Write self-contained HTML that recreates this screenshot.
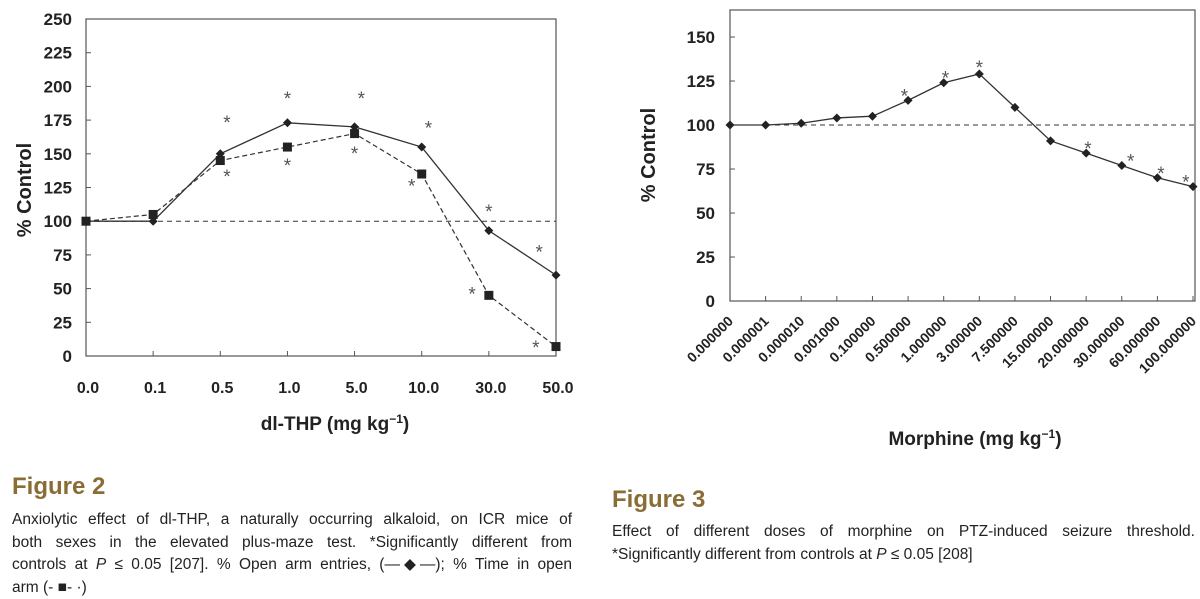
<!DOCTYPE html>
<html><head><meta charset="utf-8"><style>
body{margin:0;width:1200px;height:599px;background:#fff;overflow:hidden;font-family:"Liberation Sans",sans-serif}
svg{position:absolute;left:0;top:0}
.cap{position:absolute;font-size:15.5px;line-height:22.5px;color:#222;white-space:nowrap}
.cap .j{text-align:justify;text-align-last:justify;white-space:normal}
.fig{position:absolute;font-size:24px;font-weight:bold;color:#8a6d35}
</style></head><body>
<svg id="s" width="1200" height="460"></svg>
<div class="fig" style="left:12px;top:473px">Figure 2</div>
<div class="cap" style="left:12px;top:509px;width:560px"><div class="j">Anxiolytic effect of dl-THP, a naturally occurring alkaloid, on ICR mice of</div><div class="j">both sexes in the elevated plus-maze test. *Significantly different from</div><div class="j">controls at <i>P</i> ≤ 0.05 [207]. % Open arm entries, (—◆—); % Time in open</div><div>arm (- ■- ·)</div></div>
<div class="fig" style="left:612px;top:486px">Figure 3</div>
<div class="cap" style="left:612px;top:521px;width:583px"><div class="j">Effect of different doses of morphine on PTZ-induced seizure threshold.</div><div>*Significantly different from controls at <i>P</i> ≤ 0.05 [208]</div></div>
<script>
const catsA=["0.0","0.1","0.5","1.0","5.0","10.0","30.0","50.0"];
const entriesA=[100,100,150,173,170,155,93,60];
const timeA=[100,105,145,155,165,135,45,7];
const starsA=[[2,175,0.1],[2,135,0.1],[3,193,0],[3,143,0],[4,193,0.1],[4,152,0],[5,171,0.1],[5,128,-0.15],[6,109,0],[6,48,-0.25],[7,79,-0.25],[7,8,-0.3]];
const ticksA=[0,25,50,75,100,125,150,175,200,225,250];
const catsB=["0.000000","0.000001","0.000010","0.001000","0.100000","0.500000","1.000000","3.000000","7.500000","15.000000","20.000000","30.000000","60.000000","100.000000"];
const valsB=[100,100,101,104,105,114,124,129,110,91,84,77,70,65];
const starsB=[[5,118,-0.1],[6,128,0.05],[7,134,0],[10,88,0.05],[11,81,0.25],[12,74,0.1],[13,69,-0.2]];
const ticksB=[0,25,50,75,100,125,150];
const S=document.getElementById('s'),NS="http://www.w3.org/2000/svg";
function el(t,a,txt){const e=document.createElementNS(NS,t);for(const k in a)e.setAttribute(k,a[k]);if(txt!=null)e.textContent=txt;S.appendChild(e);return e;}
const FB='font-family:"Liberation Sans",sans-serif;font-weight:bold;fill:#222';
// chart A
const xA=i=>86+i*(556-86)/(catsA.length-1), yA=v=>356-v*(356-19)/250;
let r=el('rect',{x:86,y:19,width:470,height:337,fill:'none',stroke:'#555','stroke-width':1.2});

ticksA.forEach(t=>{const e=el('text',{x:72,y:yA(t)+6,'text-anchor':'end',style:FB+';font-size:17px'},t);

el('line',{x1:86,x2:91,y1:yA(t),y2:yA(t),stroke:'#555'});});
catsA.forEach((c,i)=>{el('line',{x1:xA(i),x2:xA(i),y1:356,y2:351,stroke:'#555'});
const e=el('text',{x:xA(i)+2,y:393,'text-anchor':'middle',style:FB+';font-size:16px'},c);
});
let d=el('line',{x1:86,x2:556,y1:yA(100),y2:yA(100),stroke:'#333','stroke-dasharray':'5,4'});

let p=el('polyline',{points:timeA.map((v,i)=>xA(i)+','+yA(v)).join(' '),fill:'none',stroke:'#333','stroke-width':1.2,'stroke-dasharray':'5,3'});

p=el('polyline',{points:entriesA.map((v,i)=>xA(i)+','+yA(v)).join(' '),fill:'none',stroke:'#333','stroke-width':1.3});

timeA.forEach((v,i)=>{const e=el('rect',{x:xA(i)-4.5,y:yA(v)-4.5,width:9,height:9,fill:'#222'});
});
entriesA.forEach((v,i)=>{const x=xA(i),y=yA(v);const e=el('polygon',{points:`${x},${y-4.5} ${x+4.5},${y} ${x},${y+4.5} ${x-4.5},${y}`,fill:'#222'});
});
starsA.forEach(s=>{const e=el('text',{x:xA(s[0]+s[2]),y:yA(s[1])+9,'text-anchor':'middle',style:'font-family:"Liberation Sans",sans-serif;font-size:19px;fill:#555'},'*');
});
let t=el('text',{x:0,y:0,transform:'translate(31,190) rotate(-90)','text-anchor':'middle',style:FB+';font-size:20px'},'% Control');

t=el('text',{x:335,y:430,'text-anchor':'middle',style:FB+';font-size:19px'});t.innerHTML='dl-THP (mg kg<tspan dy="-7" font-size="12">−1</tspan><tspan dy="7">)</tspan>';

// chart B
const xB=i=>730+i*(1193-730)/(catsB.length-1), yB=v=>301-v*(301-37)/150;
r=el('rect',{x:730,y:10,width:465,height:291,fill:'none',stroke:'#555','stroke-width':1.2});

ticksB.forEach(v=>{const e=el('text',{x:715,y:yB(v)+6,'text-anchor':'end',style:FB+';font-size:17px'},v);

el('line',{x1:730,x2:735,y1:yB(v),y2:yB(v),stroke:'#555'});});
catsB.forEach((c,i)=>{el('line',{x1:xB(i),x2:xB(i),y1:301,y2:296,stroke:'#555'});
const e=el('text',{x:0,y:0,transform:`translate(${xB(i)+4},${322}) rotate(-45)`,'text-anchor':'end',style:FB+';font-size:14px'},c);
});
d=el('line',{x1:730,x2:1195,y1:yB(100),y2:yB(100),stroke:'#333','stroke-dasharray':'5,4'});

p=el('polyline',{points:valsB.map((v,i)=>xB(i)+','+yB(v)).join(' '),fill:'none',stroke:'#333','stroke-width':1.3});

valsB.forEach((v,i)=>{const x=xB(i),y=yB(v);const e=el('polygon',{points:`${x},${y-4.5} ${x+4.5},${y} ${x},${y+4.5} ${x-4.5},${y}`,fill:'#222'});
});
starsB.forEach(s=>{const e=el('text',{x:xB(s[0]+s[2]),y:yB(s[1])+9,'text-anchor':'middle',style:'font-family:"Liberation Sans",sans-serif;font-size:19px;fill:#555'},'*');
});
t=el('text',{x:0,y:0,transform:'translate(655,155) rotate(-90)','text-anchor':'middle',style:FB+';font-size:20px'},'% Control');

t=el('text',{x:975,y:445,'text-anchor':'middle',style:FB+';font-size:19px'});t.innerHTML='Morphine (mg kg<tspan dy="-7" font-size="12">−1</tspan><tspan dy="7">)</tspan>';

</script>
</body></html>
